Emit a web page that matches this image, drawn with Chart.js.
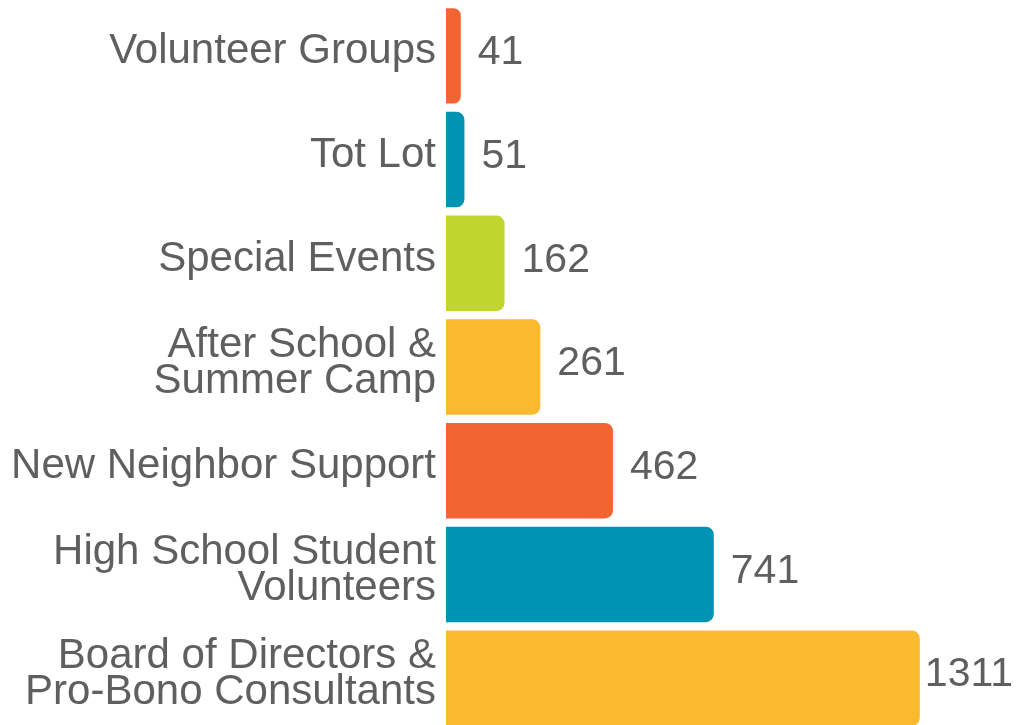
<!DOCTYPE html>
<html><head><meta charset="utf-8">
<script src="https://cdn.jsdelivr.net/npm/chart.js@4/dist/chart.umd.min.js"></script>
<style>html,body{margin:0;padding:0;background:#fff;overflow:hidden;}#wrap{width:1017px;height:730px;}</style>
</head><body><div id="wrap"><canvas id="c"></canvas></div>
<script>
const categories = [
  ["Volunteer Groups"],
  ["Tot Lot"],
  ["Special Events"],
  ["After School &", "Summer Camp"],
  ["New Neighbor Support"],
  ["High School Student", "Volunteers"],
  ["Board of Directors &", "Pro-Bono Consultants"]
];
const values = [41, 51, 162, 261, 462, 741, 1311];
const barColors = ["#F26532", "#0093B4", "#C2D52F", "#FBB930", "#F26532", "#0093B4", "#FBB930"];
const FONT = "'Liberation Sans', Arial, Helvetica, sans-serif";
const TXT = "#5f5f5f";

const valueLabels = {
  id: 'valueLabels',
  afterDatasetsDraw(chart) {
    const ctx = chart.ctx;
    const meta = chart.getDatasetMeta(0);
    ctx.save();
    ctx.font = "41px " + FONT;
    ctx.fillStyle = TXT;
    ctx.textBaseline = 'middle';
    ctx.textAlign = 'left';
    meta.data.forEach((bar, i) => {
      const txt = String(values[i]);
      const w = ctx.measureText(txt).width;
      let x = bar.x + 17;
      if (x + w > chart.width - 4) x = chart.width - 4 - w;
      ctx.fillText(txt, x, bar.y - 3);
    });
    ctx.restore();
  }
};

new Chart(document.getElementById('c'), {
  type: 'bar',
  data: {
    labels: categories,
    datasets: [{
      data: values,
      backgroundColor: barColors,
      borderRadius: 8,
      borderSkipped: 'start',
      barPercentage: 0.92,
      categoryPercentage: 1.0
    }]
  },
  options: {
    indexAxis: 'y',
    responsive: true,
    maintainAspectRatio: false,
    animation: false,
    layout: { padding: { top: 4, bottom: 0, left: 0, right: 0 } },
    plugins: { legend: { display: false }, tooltip: { enabled: false } },
    scales: {
      x: { display: false, min: 0, max: 1580 },
      y: {
        afterFit(scale) { scale.width = 446; scale.paddingTop = 0; scale.paddingBottom = 0; },
        grid: { display: false, drawTicks: false },
        border: { display: false },
        ticks: {
          color: TXT,
          padding: 10,
          labelOffset: -4,
          font: { family: FONT, size: 42, lineHeight: 0.86 }
        }
      }
    }
  },
  plugins: [valueLabels]
});
</script></body></html>
